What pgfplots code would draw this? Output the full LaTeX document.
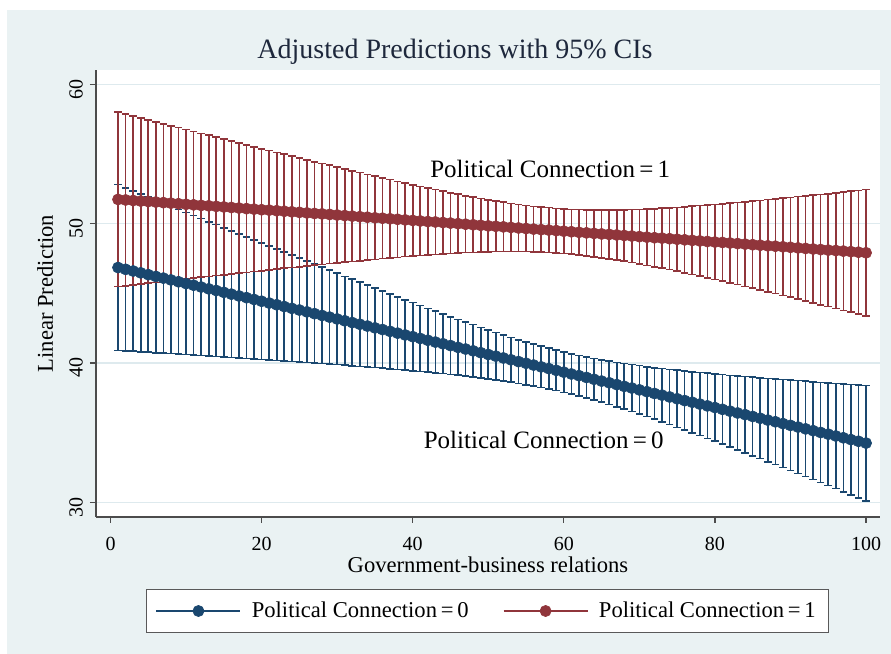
\documentclass[border=0pt]{standalone}
\usepackage{fontspec}
\setmainfont{Liberation Serif}
\usepackage{pgfplots}
\usepackage{pgfplotstable}
\pgfplotsset{compat=1.18}
\definecolor{sbg}{RGB}{234,242,243}
\definecolor{snavy}{RGB}{26,71,111}
\definecolor{smaroon}{RGB}{144,53,59}
\definecolor{sgrid}{RGB}{222,234,238}
\definecolor{stitle}{RGB}{30,40,60}

\pgfplotstableread{
x y e
1 46.85 5.95
2 46.72 5.86
3 46.60 5.76
4 46.47 5.67
5 46.34 5.57
6 46.21 5.48
7 46.09 5.38
8 45.96 5.29
9 45.83 5.20
10 45.70 5.10
11 45.58 5.01
12 45.45 4.92
13 45.32 4.82
14 45.20 4.73
15 45.07 4.64
16 44.94 4.55
17 44.81 4.45
18 44.69 4.36
19 44.56 4.27
20 44.43 4.18
21 44.30 4.09
22 44.18 4.00
23 44.05 3.91
24 43.92 3.81
25 43.80 3.72
26 43.67 3.64
27 43.54 3.55
28 43.41 3.46
29 43.29 3.37
30 43.16 3.28
31 43.03 3.19
32 42.90 3.11
33 42.78 3.02
34 42.65 2.94
35 42.52 2.85
36 42.40 2.77
37 42.27 2.69
38 42.14 2.60
39 42.01 2.52
40 41.89 2.45
41 41.76 2.37
42 41.63 2.29
43 41.50 2.22
44 41.38 2.14
45 41.25 2.07
46 41.12 2.00
47 41.00 1.94
48 40.87 1.88
49 40.74 1.81
50 40.61 1.76
51 40.49 1.70
52 40.36 1.66
53 40.23 1.61
54 40.10 1.57
55 39.98 1.54
56 39.85 1.51
57 39.72 1.48
58 39.60 1.47
59 39.47 1.45
60 39.34 1.45
61 39.21 1.45
62 39.09 1.46
63 38.96 1.48
64 38.83 1.50
65 38.70 1.52
66 38.58 1.56
67 38.45 1.59
68 38.32 1.64
69 38.20 1.68
70 38.07 1.74
71 37.94 1.79
72 37.81 1.85
73 37.69 1.91
74 37.56 1.98
75 37.43 2.05
76 37.30 2.12
77 37.18 2.19
78 37.05 2.26
79 36.92 2.34
80 36.80 2.41
81 36.67 2.49
82 36.54 2.57
83 36.41 2.65
84 36.29 2.74
85 36.16 2.82
86 36.03 2.90
87 35.90 2.99
88 35.78 3.07
89 35.65 3.16
90 35.52 3.25
91 35.40 3.33
92 35.27 3.42
93 35.14 3.51
94 35.01 3.60
95 34.89 3.69
96 34.76 3.78
97 34.63 3.87
98 34.50 3.96
99 34.38 4.05
100 34.25 4.14
}\blueT

\pgfplotstableread{
x y e
1 51.74 6.26
2 51.70 6.16
3 51.66 6.06
4 51.62 5.96
5 51.59 5.86
6 51.55 5.76
7 51.51 5.66
8 51.47 5.56
9 51.43 5.46
10 51.39 5.36
11 51.35 5.26
12 51.31 5.16
13 51.28 5.07
14 51.24 4.97
15 51.20 4.87
16 51.16 4.77
17 51.12 4.67
18 51.08 4.58
19 51.04 4.48
20 51.00 4.38
21 50.97 4.28
22 50.93 4.19
23 50.89 4.09
24 50.85 4.00
25 50.81 3.90
26 50.77 3.81
27 50.73 3.71
28 50.70 3.62
29 50.66 3.53
30 50.62 3.43
31 50.58 3.34
32 50.54 3.25
33 50.50 3.16
34 50.46 3.07
35 50.42 2.98
36 50.39 2.90
37 50.35 2.81
38 50.31 2.73
39 50.27 2.64
40 50.23 2.56
41 50.19 2.48
42 50.15 2.40
43 50.12 2.32
44 50.08 2.25
45 50.04 2.18
46 50.00 2.11
47 49.96 2.04
48 49.92 1.98
49 49.88 1.92
50 49.84 1.86
51 49.81 1.81
52 49.77 1.77
53 49.73 1.73
54 49.69 1.69
55 49.65 1.66
56 49.61 1.63
57 49.57 1.62
58 49.54 1.61
59 49.50 1.60
60 49.46 1.60
61 49.42 1.61
62 49.38 1.63
63 49.34 1.65
64 49.30 1.68
65 49.26 1.71
66 49.23 1.75
67 49.19 1.79
68 49.15 1.84
69 49.11 1.90
70 49.07 1.96
71 49.03 2.02
72 48.99 2.08
73 48.96 2.15
74 48.92 2.22
75 48.88 2.29
76 48.84 2.37
77 48.80 2.45
78 48.76 2.53
79 48.72 2.61
80 48.68 2.69
81 48.65 2.78
82 48.61 2.86
83 48.57 2.95
84 48.53 3.04
85 48.49 3.12
86 48.45 3.21
87 48.41 3.31
88 48.38 3.40
89 48.34 3.49
90 48.30 3.58
91 48.26 3.68
92 48.22 3.77
93 48.18 3.86
94 48.14 3.96
95 48.10 4.05
96 48.07 4.15
97 48.03 4.25
98 47.99 4.34
99 47.95 4.44
100 47.91 4.54
}\redT

\begin{document}
\begin{tikzpicture}
\fill[white] (0pt,0pt) rectangle (445.5pt,327pt);
\fill[sbg] (3.5pt,0pt) rectangle (445.5pt,322pt);
\node[font=\fontsize{14}{16}\selectfont, text=stitle, anchor=base] at (227.5pt,297.5pt) {Adjusted Predictions with 95\% CIs};
\begin{axis}[
  at={(48pt,68.5pt)}, anchor=south west,
  scale only axis, width=392pt, height=223.5pt,
  xmin=-1.92, xmax=101.85, ymin=28.945, ymax=61.03,
  axis background/.style={fill=white},
  axis x line*=bottom, axis y line*=left,
  axis line style={-, color=black!70, line width=0.6pt},
  xtick={0,20,40,60,80,100}, ytick={30,40,50,60},
  tick align=outside, major tick length=3pt,
  tick style={color=black!70, line width=0.6pt},
  ymajorgrids, major grid style={sgrid, line width=0.8pt},
  /pgf/number format/assume math mode=true,
  ticklabel style={font=\fontsize{10}{12}\selectfont},
  xticklabel style={yshift=-3.5pt},
  yticklabel style={rotate=90, anchor=south, xshift=-2.5pt},
  xlabel={Government-business relations},
  xlabel style={at={(axis description cs:0.5,-0.1074)}, anchor=center, font=\fontsize{11.3}{13}\selectfont},
  ylabel={Linear Prediction},
  ylabel style={at={(axis description cs:-0.065,0.5)}, anchor=center, font=\fontsize{11.3}{13}\selectfont},
  legend columns=2,
  legend style={at={(axis description cs:0.4995,-0.2103)}, anchor=center, draw=black!65, line width=0.6pt, fill=white, font=\fontsize{11.3}{13}\selectfont, inner xsep=4.5pt, inner ysep=4pt,
    /tikz/every even column/.append style={column sep=15pt},
    /tikz/every odd column/.append style={column sep=3.2pt}},
  legend image code/.code={\draw[mark repeat=2, mark phase=2, #1] plot coordinates {(0pt,0pt) (21pt,0pt) (42pt,0pt)};},
]
\addplot[snavy, only marks, mark=none, forget plot,
  error bars/.cd, y dir=both, y explicit,
  error bar style={snavy, line width=0.8pt},
  error mark=|, error mark options={snavy, line width=0.8pt, mark size=1.9pt}]
  table[x=x, y=y, y error=e]{\blueT};
\addplot[smaroon, only marks, mark=none, forget plot,
  error bars/.cd, y dir=both, y explicit,
  error bar style={smaroon, line width=0.8pt},
  error mark=|, error mark options={smaroon, line width=0.8pt, mark size=1.9pt}]
  table[x=x, y=y, y error=e]{\redT};
\addplot[snavy, line width=1pt, mark=*, mark size=2.8pt, mark options={fill=snavy, draw=snavy, line width=0.3pt}]
  table[x=x, y=y]{\blueT};
\addlegendentry{Political Connection\,=\,0}
\addplot[smaroon, line width=1pt, mark=*, mark size=2.8pt, mark options={fill=smaroon, draw=smaroon, line width=0.3pt}]
  table[x=x, y=y]{\redT};
\addlegendentry{Political Connection\,=\,1}
\node[font=\fontsize{12.5}{14}\selectfont] at (axis cs:58.2,53.92) {Political Connection\,=\,1};
\node[font=\fontsize{12.5}{14}\selectfont] at (axis cs:57.34,34.46) {Political Connection\,=\,0};
\end{axis}
\end{tikzpicture}
\end{document}
